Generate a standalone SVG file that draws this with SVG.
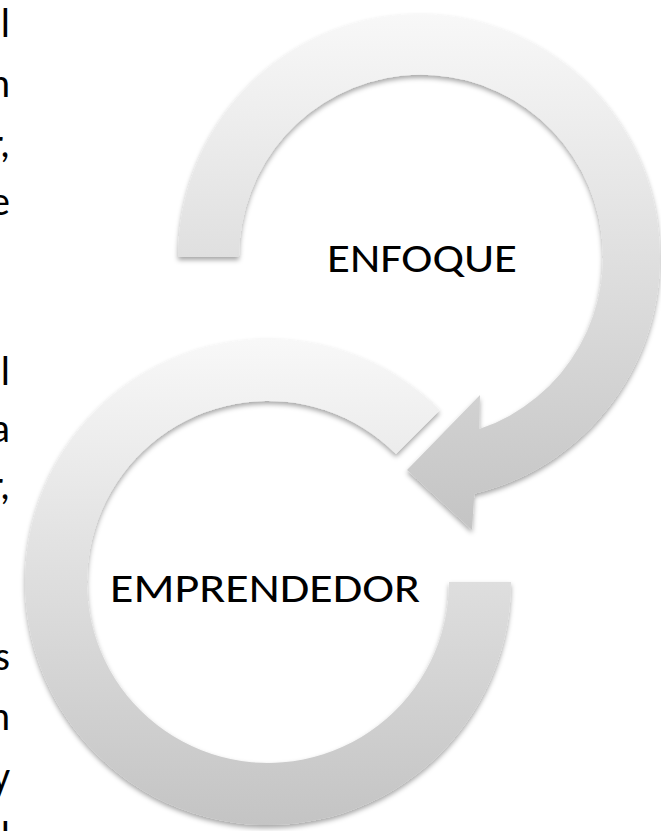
<svg xmlns="http://www.w3.org/2000/svg" width="661" height="831" viewBox="0 0 661 831">
<defs>
<linearGradient id="gTop" gradientUnits="userSpaceOnUse" x1="0" y1="14" x2="0" y2="530">
<stop offset="0" stop-color="#f8f8f8"/>
<stop offset="1" stop-color="#c4c4c4"/>
</linearGradient>
<linearGradient id="gBot" gradientUnits="userSpaceOnUse" x1="0" y1="339" x2="0" y2="825">
<stop offset="0" stop-color="#f8f8f8"/>
<stop offset="1" stop-color="#c4c4c4"/>
</linearGradient>
<filter id="sh" x="-10%" y="-10%" width="120%" height="120%">
<feDropShadow dx="0" dy="3" stdDeviation="2.5" flood-color="#000" flood-opacity="0.35"/>
</filter>
</defs>
<style>
.lbl{font-family:"Carlito","Open Sans","Liberation Sans",sans-serif;font-size:40px;fill:#000}
.pg{font-family:"Carlito","Open Sans","Liberation Sans",sans-serif;font-size:40px;fill:#000;text-anchor:end}
</style>
<rect width="661" height="831" fill="#fff"/>
<g id="page-text">
<text class="pg" x="10" y="37">l</text>
<text class="pg" x="10" y="97">n</text>
<text class="pg" x="10" y="157">r,</text>
<text class="pg" x="10" y="215">e</text>
<text class="pg" x="10" y="385">l</text>
<text class="pg" x="10" y="442">a</text>
<text class="pg" x="10" y="499">r,</text>
<text class="pg" x="10" y="670">s</text>
<text class="pg" x="10" y="730">n</text>
<text class="pg" x="10" y="790">y</text>
<text class="pg" x="10" y="850">l</text>
</g>
<g id="connectors">
<path id="arc-emprendedor" filter="url(#sh)" fill="url(#gBot)" d="M 439.8 410.2 A 243 243 0 1 0 511 582 L 449 582 A 181 181 0 1 1 396 454 Z"/>
<path id="arc-enfoque" filter="url(#sh)" fill="url(#gTop)" d="M 178 257 A 241 243 0 1 1 474.3 493.8 L 472 530 L 407 470 L 480 395 L 479.3 429.1 A 182 182 0 1 0 239 257 Z"/>
</g>
<g id="node-enfoque">
<text class="lbl" x="327" y="272" textLength="190" lengthAdjust="spacingAndGlyphs">ENFOQUE</text>
</g>
<g id="node-emprendedor">
<text class="lbl" x="110" y="602" textLength="310" lengthAdjust="spacingAndGlyphs">EMPRENDEDOR</text>
</g>
</svg>
